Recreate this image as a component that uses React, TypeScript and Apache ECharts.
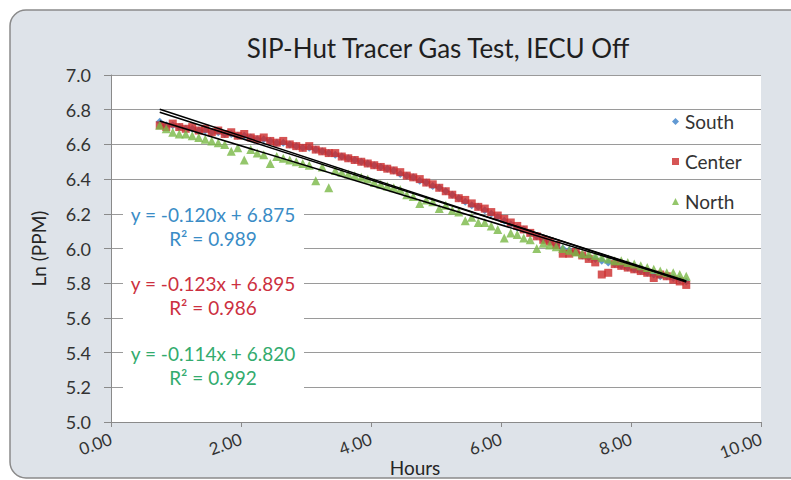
import React, { useEffect, useRef } from "react";
import * as echarts from "echarts";

const TITLE = "SIP-Hut Tracer Gas Test, IECU Off";
const X_NAME = "Hours";
const Y_NAME = "Ln (PPM)";
const SERIES_NAMES = ["South", "Center", "North"];

const HOURS = [
  0.75, 0.85, 0.95, 1.05, 1.15, 1.25, 1.35, 1.45, 1.55, 1.65,
  1.75, 1.85, 1.95, 2.05, 2.15, 2.25, 2.35, 2.45, 2.55, 2.65,
  2.75, 2.85, 2.95, 3.05, 3.15, 3.25, 3.35, 3.45, 3.55, 3.65,
  3.75, 3.85, 3.95, 4.05, 4.15, 4.25, 4.35, 4.45, 4.55, 4.65,
  4.75, 4.85, 4.95, 5.05, 5.15, 5.25, 5.35, 5.45, 5.55, 5.65,
  5.75, 5.85, 5.95, 6.05, 6.15, 6.25, 6.35, 6.45, 6.55, 6.65,
  6.75, 6.85, 6.95, 7.05, 7.15, 7.25, 7.35, 7.45, 7.55, 7.65,
  7.75, 7.85, 7.95, 8.05, 8.15, 8.25, 8.35, 8.45, 8.55, 8.65,
  8.75, 8.85,
];

const SOUTH = [
  6.73, 6.71, 6.71, 6.70, 6.69, 6.69, 6.68, 6.68, 6.67, 6.67,
  6.66, 6.66, 6.65, 6.65, 6.64, 6.63, 6.63, 6.62, 6.61, 6.61,
  6.60, 6.59, 6.58, 6.58, 6.57, 6.56, 6.55, 6.54, 6.53, 6.52,
  6.51, 6.50, 6.49, 6.48, 6.47, 6.46, 6.45, 6.43, 6.42, 6.41,
  6.39, 6.38, 6.36, 6.35, 6.33, 6.31, 6.29, 6.27, 6.25, 6.24,
  6.22, 6.20, 6.18, 6.16, 6.14, 6.12, 6.11, 6.09, 6.07, 6.05,
  6.04, 6.02, 6.00, 5.99, 5.98, 5.96, 5.95, 5.94, 5.93, 5.92,
  5.91, 5.90, 5.89, 5.88, 5.87, 5.86, 5.85, 5.84, 5.84, 5.83,
  5.82, 5.81,
];

const CENTER = [
  6.71, 6.70, 6.72, 6.70, 6.69, 6.70, 6.68, 6.69, 6.67, 6.68,
  6.66, 6.67, 6.65, 6.66, 6.64, 6.63, 6.64, 6.62, 6.61, 6.62,
  6.60, 6.59, 6.58, 6.59, 6.57, 6.56, 6.55, 6.55, 6.53, 6.52,
  6.51, 6.50, 6.49, 6.48, 6.47, 6.46, 6.45, 6.44, 6.42, 6.41,
  6.40, 6.38, 6.37, 6.35, 6.33, 6.31, 6.29, 6.28, 6.26, 6.24,
  6.23, 6.21, 6.19, 6.17, 6.15, 6.13, 6.11, 6.09, 6.07, 6.05,
  6.04, 6.02, 5.97, 5.97, 5.98, 5.96, 5.94, 5.92, 5.85, 5.86,
  5.91, 5.90, 5.89, 5.88, 5.87, 5.86, 5.83, 5.85, 5.84, 5.82,
  5.81, 5.79,
];

const NORTH = [
  6.71, 6.69, 6.67, 6.66, 6.66, 6.65, 6.64, 6.63, 6.62, 6.61,
  6.60, 6.56, 6.58, 6.51, 6.57, 6.55, 6.54, 6.49, 6.53, 6.52,
  6.51, 6.50, 6.49, 6.48, 6.39, 6.47, 6.35, 6.45, 6.44, 6.43,
  6.42, 6.41, 6.40, 6.38, 6.37, 6.36, 6.35, 6.34, 6.31, 6.30,
  6.26, 6.28, 6.27, 6.23, 6.25, 6.22, 6.21, 6.16, 6.18, 6.15,
  6.15, 6.13, 6.11, 6.06, 6.09, 6.08, 6.06, 6.05, 6.00, 6.03,
  6.02, 6.01, 6.00, 5.99, 5.98, 5.97, 5.97, 5.96, 5.95, 5.94,
  5.93, 5.93, 5.92, 5.91, 5.90, 5.89, 5.88, 5.87, 5.86, 5.86,
  5.85, 5.84,
];

const TREND_SLOPE = [-0.12, -0.123, -0.114];
const TREND_INTERCEPT = [6.875, 6.895, 6.82];
const EQUATION_LABELS = ["y = -0.120x + 6.875", "y = -0.123x + 6.895", "y = -0.114x + 6.820"];
const R2_LABELS = ["R² = 0.989", "R² = 0.986", "R² = 0.992"];

const Y_TICKS = [5.0, 5.2, 5.4, 5.6, 5.8, 6.0, 6.2, 6.4, 6.6, 6.8, 7.0];
const X_TICKS = [0, 2, 4, 6, 8, 10];

const FONT = "Lato";
const MARKER_COLORS = ["#3a7fc8", "#cc2a2a", "#79b846"];
const TEXT_COLORS = ["#3a8cc6", "#cc3040", "#33ab6e"];
const SYMBOLS = ["diamond", "rect", "triangle"];
const SYMBOL_SIZES = [8, 8, 9];

export default function App() {
  const ref = useRef<HTMLDivElement>(null);

  useEffect(() => {
    if (!ref.current) return;
    const chart = echarts.init(ref.current, undefined, { renderer: "svg" });
    const seriesValues = [SOUTH, CENTER, NORTH];

    const scatterSeries = SERIES_NAMES.map((name, i) => ({
      name,
      type: "scatter",
      symbol: SYMBOLS[i],
      symbolSize: SYMBOL_SIZES[i],
      itemStyle: { color: MARKER_COLORS[i] },
      data: HOURS.map((h, k) => [h, seriesValues[i][k]]),
      z: 2 + i,
    }));

    const x0 = HOURS[0];
    const x1 = HOURS[HOURS.length - 1];
    const trendSeries = TREND_SLOPE.map((m, i) => ({
      name: "trend" + i,
      type: "line",
      symbol: "none",
      lineStyle: { color: "#000", width: 1.5 },
      data: [
        [x0, m * x0 + TREND_INTERCEPT[i]],
        [x1, m * x1 + TREND_INTERCEPT[i]],
      ],
      z: 6,
      silent: true,
    }));

    const boxTops = [199, 268, 338];
    const graphics: any[] = [
      {
        type: "rect",
        shape: { x: 10, y: 10, width: 800, height: 468, r: 16 },
        style: { fill: "#dee3e9", stroke: "#8a8a8a", lineWidth: 1.5 },
        z: -100,
        silent: true,
      },
      {
        type: "text",
        x: 415,
        y: 467,
        style: {
          text: X_NAME,
          fill: "#262626",
          font: `19px ${FONT}`,
          textAlign: "center",
          textVerticalAlign: "middle",
        },
        z: 6,
      },
    ];
    EQUATION_LABELS.forEach((eq, i) => {
      graphics.push({
        type: "rect",
        shape: { x: 123, y: boxTops[i], width: 181, height: 54 },
        style: { fill: "#ffffff" },
        z: 5,
        silent: true,
      });
      graphics.push({
        type: "text",
        x: 213,
        y: boxTops[i] + 15,
        style: {
          text: eq,
          fill: TEXT_COLORS[i],
          font: `19px ${FONT}`,
          textAlign: "center",
          textVerticalAlign: "middle",
        },
        z: 6,
      });
      graphics.push({
        type: "text",
        x: 213,
        y: boxTops[i] + 39,
        style: {
          text: R2_LABELS[i],
          fill: TEXT_COLORS[i],
          font: `19px ${FONT}`,
          textAlign: "center",
          textVerticalAlign: "middle",
        },
        z: 6,
      });
    });

    chart.setOption({
      animation: false,
      backgroundColor: "#ffffff",
      textStyle: { fontFamily: FONT },
      title: {
        text: TITLE,
        left: 433,
        top: 30,
        textAlign: "center",
        textStyle: { fontFamily: FONT, fontSize: 26, fontWeight: "normal", color: "#1f1f1f" },
      },
      legend: {
        orient: "vertical",
        left: 667,
        top: 105,
        itemGap: 17,
        itemWidth: 7,
        itemHeight: 7,
        data: SERIES_NAMES.map((n, i) => ({ name: n, icon: SYMBOLS[i] })),
        textStyle: { fontFamily: FONT, fontSize: 19, color: "#333", lineHeight: 23, padding: [0, 0, 0, 1] },
      },
      grid: {
        left: 111,
        right: 30,
        top: 75,
        bottom: 58,
        show: true,
        backgroundColor: "#ffffff",
        borderWidth: 0,
      },
      xAxis: {
        type: "value",
        min: X_TICKS[0],
        max: X_TICKS[X_TICKS.length - 1],
        interval: X_TICKS[1] - X_TICKS[0],
        axisLine: { show: true, lineStyle: { color: "#8a8a8a", width: 1 } },
        axisTick: { show: true, length: 5, lineStyle: { color: "#8a8a8a" } },
        splitLine: { show: false },
        axisLabel: {
          rotate: 20,
          margin: 16,
          fontFamily: FONT,
          fontSize: 17,
          color: "#333",
          formatter: (v: number) => v.toFixed(2),
        },
      },
      yAxis: {
        type: "value",
        min: Y_TICKS[0],
        max: Y_TICKS[Y_TICKS.length - 1],
        interval: 0.2,
        name: Y_NAME,
        nameLocation: "middle",
        nameGap: 63,
        nameTextStyle: { fontFamily: FONT, fontSize: 19, color: "#262626" },
        axisLine: { show: true, lineStyle: { color: "#8a8a8a", width: 1 } },
        axisTick: { show: true, length: 7, lineStyle: { color: "#8a8a8a" } },
        splitLine: { show: true, lineStyle: { color: "#9a9a9a", width: 1 } },
        axisLabel: {
          margin: 20,
          fontFamily: FONT,
          fontSize: 18,
          color: "#333",
          formatter: (v: number) => v.toFixed(1),
        },
      },
      graphic: graphics,
      series: [...scatterSeries, ...trendSeries],
    });

    return () => chart.dispose();
  }, []);

  return (
    <div
      ref={ref}
      style={{ position: "fixed", left: 0, top: 0, width: 791, height: 480 }}
    />
  );
}
